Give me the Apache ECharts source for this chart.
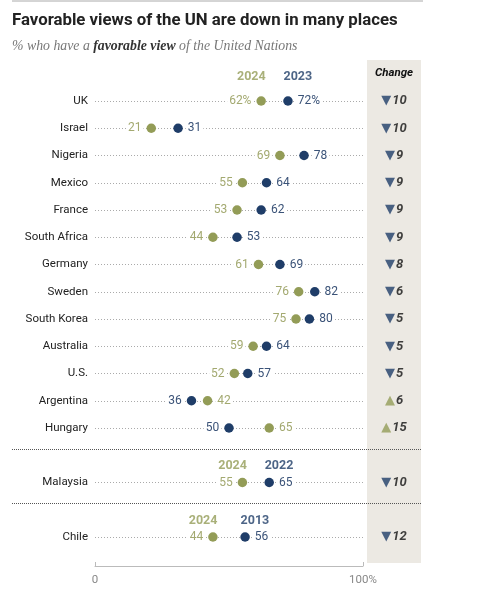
<!DOCTYPE html>
<html><head><meta charset="utf-8">
<script src="https://cdn.jsdelivr.net/npm/echarts@6/dist/echarts.min.js"></script>
<style>html,body{margin:0;padding:0;background:#fff}#c{width:480px;height:591px}</style>
</head><body><div id="c"></div>
<script>
// ---- data ----
const rows = ['UK','Israel','Nigeria','Mexico','France','South Africa','Germany','Sweden','South Korea','Australia','U.S.','Argentina','Hungary','','Malaysia','','Chile'];
const fav2024 = [62,21,69,55,53,44,61,76,75,59,52,42,65,null,55,null,44];
const favPrior = [72,31,78,64,62,53,69,82,80,64,57,36,50,null,65,null,56];
const headRows = [0,14,16];
const headYears2024 = ['2024','2024','2024'];
const headYearsPrior = ['2023','2022','2013'];
const xTickLabels = {0:'0',100:'100%'};

// ---- styles ----
const GREEN='#939c57', BLUE='#1f3d68', GREEN_T='#a3a970', BLUE_T='#3b5378';
const SANS='Roboto, "Liberation Sans", Arial, sans-serif';

const chart = echarts.init(document.getElementById('c'), null, {renderer:'canvas'});

function valSeries(vals, other){
  return vals.map((v,i)=>{
    if(v==null) return null;
    const lower = v < other[i];
    return {value:[v,i], label:{position: lower?'left':'right', formatter: (i===0? v+'%' : String(v))}};
  });
}
const headData = [];
headRows.forEach((r,k)=>{
  const g = fav2024[r], p = favPrior[r];
  const dy = r===0 ? -24 : -16;
  [[g, headYears2024[k], GREEN, g<p],[p, headYearsPrior[k], BLUE, p<g]].forEach(([v,t,c,lower])=>{
    headData.push({value:[v,r], label:{show:true, formatter:t, color:c, position: lower?[5,dy]:[-4,dy], align: lower?'right':'left', verticalAlign:'middle', fontWeight:'bold', fontSize:12.5, fontFamily:SANS}});
  });
});
const changeData = rows.map((r,i)=>{
  if(fav2024[i]==null) return null;
  const d = fav2024[i]-favPrior[i];
  const up = d>0;
  return {value:[0.5,i], label:{formatter: '{' + (up?'u':'d') + '|' + (up?'▲':'▼') + '}{n|' + Math.abs(d) + '}'}};
});

const option = {
  animation:false,
  backgroundColor:'#fff',
  title:{
    text:'Favorable views of the UN are down in many places',
    subtext:'{a|% who have a }{b|favorable view}{a| of the United Nations}',
    left:12, top:12, padding:0, itemGap:10,
    textStyle:{fontSize:16.8, fontWeight:'bold', color:'#222', fontFamily:'Roboto, "Liberation Sans", sans-serif'},
    subtextStyle:{rich:{
      a:{fontSize:13.8, fontStyle:'italic', color:'#777', fontFamily:'"Liberation Serif", serif'},
      b:{fontSize:13.8, fontStyle:'italic', fontWeight:'bold', color:'#333', fontFamily:'"Liberation Serif", serif'}
    }}
  },
  graphic:[
    {type:'line', shape:{x1:12,y1:1,x2:423,y2:1}, style:{stroke:'#aaa', lineWidth:1}},
    {type:'rect', z:-1, shape:{x:367,y:60,width:54,height:503}, style:{fill:'#ece9e3'}},
    {type:'text', x:394, y:73, style:{text:'Change', x:0, y:0, align:'center', verticalAlign:'middle', fontSize:11.5, fontWeight:'bold', fontStyle:'italic', fill:'#111', fontFamily:SANS}},
    {type:'line', z:5, shape:{x1:12,y1:449.5,x2:421,y2:449.5}, style:{stroke:'#555', lineWidth:1.2, lineDash:[1,1]}},
    {type:'line', z:5, shape:{x1:12,y1:503.5,x2:421,y2:503.5}, style:{stroke:'#555', lineWidth:1.2, lineDash:[1,1]}}
  ],
  grid:[
    {left:95, right:117, top:101, bottom:54},
    {left:367, right:59, top:101, bottom:54}
  ],
  xAxis:[
    {type:'value', gridIndex:0, min:0, max:100, interval:100, offset:29,
     axisLine:{show:true, lineStyle:{color:'#bbb'}},
     axisTick:{show:true, inside:true, length:4, lineStyle:{color:'#bbb'}},
     axisLabel:{color:'#888', fontSize:11.5, margin:8, fontFamily:SANS, formatter:v=>xTickLabels[v]},
     splitLine:{show:false}},
    {type:'value', gridIndex:1, min:0, max:1, show:false}
  ],
  yAxis:[
    {type:'category', gridIndex:0, data:rows, inverse:true, boundaryGap:false,
     axisLine:{show:false}, axisTick:{show:false},
     axisLabel:{color:'#222', fontSize:11.5, margin:7, fontFamily:SANS},
     splitLine:{show:true, interval:(idx)=>rows[idx]!=='', lineStyle:{color:'#aaa', width:1, type:[1,2]}}},
    {type:'category', gridIndex:1, data:rows, inverse:true, boundaryGap:false, show:false}
  ],
  series:[
    {type:'scatter', name:'2024', xAxisIndex:0, yAxisIndex:0, symbolSize:9.5, z:4,
     itemStyle:{color:GREEN, opacity:1},
     label:{show:true, distance:3, color:GREEN_T, fontSize:12, fontFamily:SANS, backgroundColor:'#fff', padding:[1,2]},
     data:valSeries(fav2024,favPrior)},
    {type:'scatter', name:'prior', xAxisIndex:0, yAxisIndex:0, symbolSize:9.5, z:4,
     itemStyle:{color:BLUE, opacity:1},
     label:{show:true, distance:3, color:BLUE_T, fontSize:12, fontFamily:SANS, backgroundColor:'#fff', padding:[1,2]},
     data:valSeries(favPrior,fav2024)},
    {type:'scatter', name:'heads', xAxisIndex:0, yAxisIndex:0, symbolSize:1, z:3,
     itemStyle:{color:'rgba(0,0,0,0)'}, data:headData},
    {type:'scatter', name:'change', xAxisIndex:1, yAxisIndex:1, symbolSize:1, z:4,
     itemStyle:{color:'rgba(0,0,0,0)'},
     label:{show:true, position:'inside', align:'center', verticalAlign:'middle', rich:{
       d:{color:BLUE, fontSize:13, fontFamily:'"DejaVu Sans", sans-serif', padding:[0,1,0,0]},
       u:{color:GREEN, fontSize:13, fontFamily:'"DejaVu Sans", sans-serif', padding:[0,1,0,0]},
       n:{color:'#111', fontSize:13, fontWeight:'bold', fontStyle:'italic', fontFamily:SANS}
     }},
     data:changeData}
  ]
};
chart.setOption(option);
</script></body></html>
